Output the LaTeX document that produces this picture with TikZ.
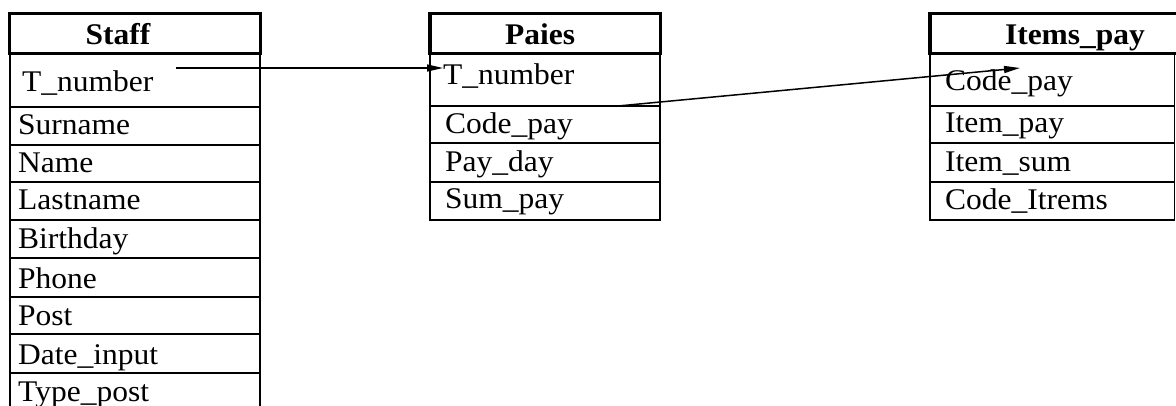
\documentclass[tikz,border=0pt]{standalone}
\usepackage{fontspec}
\setmainfont{Liberation Serif}[FakeStretch=1.05]
\usetikzlibrary{arrows.meta}
\begin{document}
\begin{tikzpicture}[x=1pt,y=-1pt,
  thinline/.style={line width=1.8pt},
  headbox/.style={line width=3.6pt},
  fieldtxt/.style={anchor=base west,inner sep=0pt,font=\fontsize{30}{32}\selectfont},
  headtxt/.style={anchor=base,inner sep=0pt,font=\fontsize{30}{32}\selectfont\bfseries},
  link/.style={line width=1.5pt,-{Triangle[length=16pt,width=7pt]}}]
\useasboundingbox (0,0) rectangle (1176,406);
% ---- Staff ----
\draw[headbox] (9.5,13.5) rectangle (260.5,53.5);
\draw[thinline] (10,53) -- (10,410) (260,53) -- (260,410);
\foreach \yy in {107,145,182,220,258,297,334,373} \draw[thinline] (10,\yy) -- (260,\yy);
\node[headtxt] (staffH) at (118,45) {Staff};
\node[fieldtxt] (sT) at (22,92) {T\_number};
\node[fieldtxt] (sSur) at (18,135) {Surname};
\node[fieldtxt] (sName) at (18,173) {Name};
\node[fieldtxt] (sLast) at (18,210) {Lastname};
\node[fieldtxt] (sBirth) at (18,249) {Birthday};
\node[fieldtxt] (sPhone) at (18,288) {Phone};
\node[fieldtxt] (sPost) at (18,325) {Post};
\node[fieldtxt] (sDate) at (18,364) {Date\_input};
\node[fieldtxt] (sType) at (18,401) {Type\_post};
% ---- Paies ----
\draw[headbox] (430,13.5) rectangle (660.5,53.5);
\draw[thinline] (430,53) rectangle (660,220);
\foreach \yy in {106,143,182} \draw[thinline] (430,\yy) -- (660,\yy);
\node[headtxt] (paiesH) at (540,45) {Paies};
\node[fieldtxt] (pT) at (443,85) {T\_number};
\node[fieldtxt] (pCode) at (445,134) {Code\_pay};
\node[fieldtxt] (pDay) at (445,172) {Pay\_day};
\node[fieldtxt] (pSum) at (445,209) {Sum\_pay};
% ---- Items_pay ----
\draw[headbox] (930,13.5) rectangle (1180,53.5);
\draw[thinline] (930,53) rectangle (1174.5,220);
\foreach \yy in {106,143,182} \draw[thinline] (930,\yy) -- (1175,\yy);
\node[headtxt] (itemsH) at (1075,45) {Items\_pay};
\node[fieldtxt] (iCode) at (945,91) {Code\_pay};
\node[fieldtxt] (iItem) at (945,133) {Item\_pay};
\node[fieldtxt] (iSum) at (945,172) {Item\_sum};
\node[fieldtxt] (iCodeI) at (945,210) {Code\_Itrems};
% ---- links ----
\coordinate (a1s) at (176,68);
\coordinate (a1e) at (443,68);
\coordinate (a2s) at (618,106);
\coordinate (a2e) at (1020,68);
\draw[link] (a1s) -- (a1e);
\draw[link] (a2s) -- (a2e);
\end{tikzpicture}
\end{document}
